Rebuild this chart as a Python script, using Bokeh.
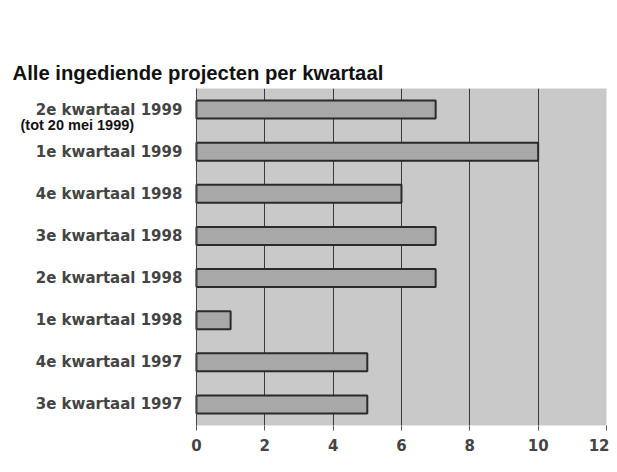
from bokeh.plotting import figure
from bokeh.models import Range1d, FactorRange, Label, ColumnDataSource, BoxAnnotation, Title
from bokeh.embed import file_html
from bokeh.resources import INLINE

title = "Alle ingediende projecten per kwartaal"
categories = ["3e kwartaal 1997", "4e kwartaal 1997", "1e kwartaal 1998", "2e kwartaal 1998",
              "3e kwartaal 1998", "4e kwartaal 1998", "1e kwartaal 1999", "2e kwartaal 1999"]
values = [5, 5, 1, 7, 7, 6, 10, 7]
note = "(tot 20 mei 1999)"
x_ticks = [0, 2, 4, 6, 8, 10, 12]

src = ColumnDataSource(dict(cat=categories, val=values))

p = figure(width=609, height=464, output_backend="svg", toolbar_location=None,
           x_range=Range1d(-5.5, 12), y_range=FactorRange(*categories, range_padding=0),
           min_border_left=8, min_border_right=3, min_border_top=88, min_border_bottom=39)

p.background_fill_color = "white"
p.border_fill_color = "white"
p.outline_line_color = None

p.add_layout(BoxAnnotation(left=0, right=12, fill_color="#c9c9c9", fill_alpha=1,
                           line_color="#9a9a9a", line_width=1, level="image"))

p.hbar(y="cat", right="val", left=0, height=0.43, source=src,
       fill_color="#a8a8a8", line_color="#2a2a2a", line_width=2)

p.xgrid.ticker = x_ticks
p.xgrid.grid_line_color = "#3a3a3a"
p.xgrid.grid_line_width = 1
p.ygrid.grid_line_color = None

p.xaxis.ticker = x_ticks
p.xaxis.axis_line_color = None
p.xaxis.major_tick_line_color = "#555555"
p.xaxis.major_tick_out = 5
p.xaxis.major_tick_in = 0
p.xaxis.minor_tick_line_color = None
p.xaxis.major_label_text_font = "DejaVu Sans"
p.xaxis.major_label_text_font_style = "bold"
p.xaxis.major_label_text_font_size = "15px"
p.xaxis.major_label_text_color = "#444444"
p.xaxis.major_label_standoff = 8

p.yaxis.fixed_location = 0
p.yaxis.axis_line_color = "#444444"
p.yaxis.major_tick_line_color = None
p.yaxis.major_tick_out = 0
p.yaxis.minor_tick_line_color = None
p.yaxis.major_label_text_font = "DejaVu Sans"
p.yaxis.major_label_text_font_style = "bold"
p.yaxis.major_label_text_font_size = "15px"
p.yaxis.major_label_text_color = "#444444"
p.yaxis.major_label_standoff = 14

# the built-in title (closest to the plot area) is an invisible spacer
p.title.text = "."
p.title.text_font_size = "10px"
p.title.text_alpha = 0
p.title.standoff = 20

# the visible chart title, stacked above the spacer
p.add_layout(Title(text=title, align="left", offset=4, text_font="Liberation Sans",
                   text_font_style="bold", text_font_size="20.3px",
                   text_color="#111111"), "above")

p.add_layout(Label(x=12, y=301, x_units="screen", y_units="screen", text=note,
                   text_font="Liberation Sans", text_font_style="bold",
                   text_font_size="14.5px", text_color="#111111",
                   text_baseline="middle", text_align="left"))

open("out.html", "w").write(file_html(p, INLINE))
